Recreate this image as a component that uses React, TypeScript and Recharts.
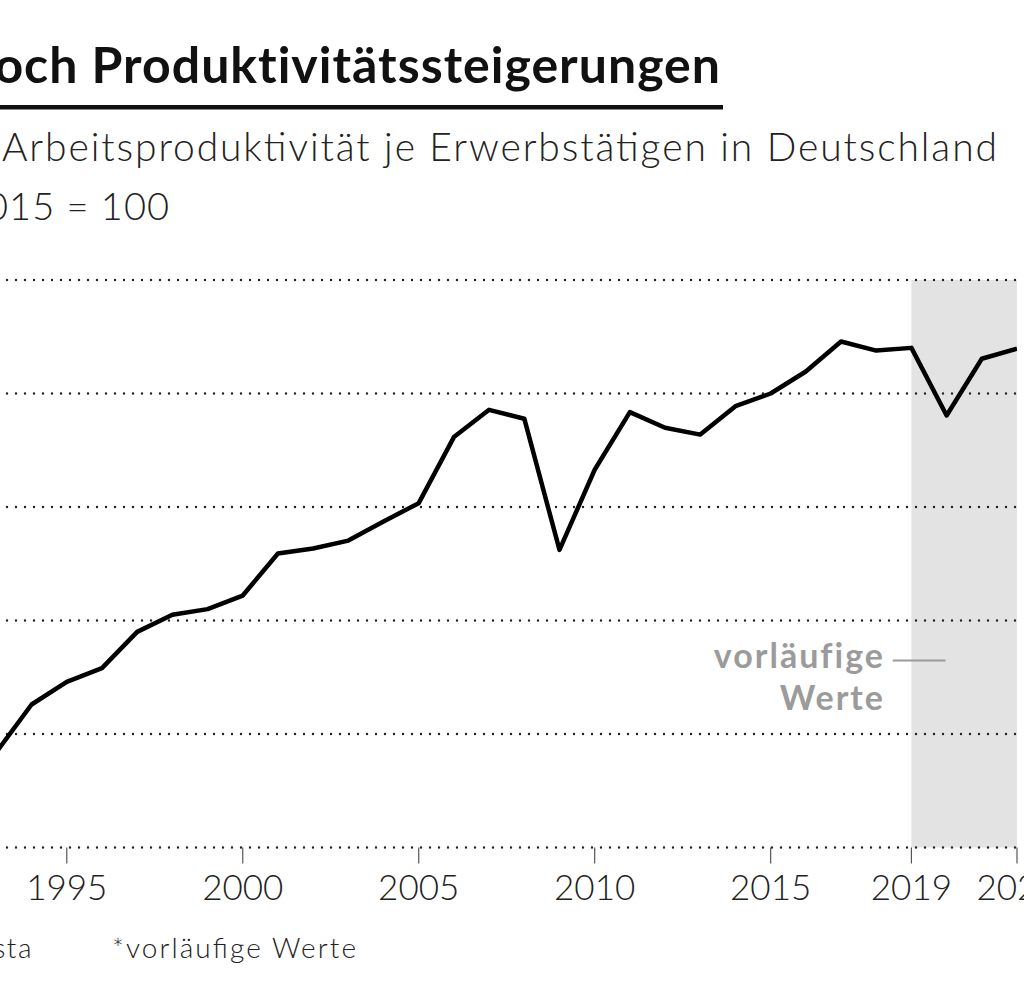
import React from "react";
import {
  LineChart,
  Line,
  XAxis,
  YAxis,
  ReferenceLine,
  ReferenceArea,
} from "recharts";

const years = [
  1991, 1992, 1993, 1994, 1995, 1996, 1997, 1998, 1999, 2000, 2001, 2002,
  2003, 2004, 2005, 2006, 2007, 2008, 2009, 2010, 2011, 2012, 2013, 2014,
  2015, 2016, 2017, 2018, 2019, 2020, 2021, 2022,
];
const productivity = [
  80.8, 82.9, 84.2, 86.3, 87.3, 87.9, 89.5, 90.25, 90.5, 91.1, 92.95, 93.17,
  93.52, 94.36, 95.17, 98.08, 99.28, 98.89, 93.11, 96.64, 99.18, 98.49, 98.19,
  99.44, 100, 100.97, 102.29, 101.89, 102.01, 99.03, 101.53, 101.97,
];
const xTicks = [1995, 2000, 2005, 2010, 2015, 2019, 2022];
const gridValues = [80, 85, 90, 95, 100, 105];
const provisionalStart = 2019;
const provisionalEnd = 2022;

const title = "Kaum noch Produktivitätssteigerungen";
const subtitle = "Arbeitsproduktivität je Erwerbstätigen in Deutschland";
const unitNote = "2015 = 100";
const source = "Quelle: Statista";
const footnote = "*vorläufige Werte";
const annotation = ["vorläufige", "Werte"];

const data = years.map((y, i) => ({ year: y, v: productivity[i] }));

const FONT = "Lato, 'Open Sans', sans-serif";

export default function App() {
  return (
    <div
      style={{
        position: "absolute",
        left: 0,
        top: 0,
        width: 1024,
        height: 1001,
        overflow: "hidden",
        background: "#fff",
        fontFamily: FONT,
      }}
    >
      <div style={{ position: "absolute", left: -74.1, top: 269.5 }}>
        <LineChart
          width={1121}
          height={647.5}
          data={data}
          margin={{ top: 10, right: 30, bottom: 0, left: 0 }}
        >
          <ReferenceArea
            x1={provisionalStart}
            x2={provisionalEnd}
            y1={80}
            y2={105}
            fill="#e3e3e3"
            fillOpacity={1}
            stroke="none"
            ifOverflow="visible"
          />
          {gridValues.map((g) => (
            <ReferenceLine
              key={g}
              y={g}
              stroke="#222"
              strokeWidth={2.4}
              strokeDasharray="0 9"
              strokeLinecap="round"
              ifOverflow="visible"
            />
          ))}
          <XAxis
            dataKey="year"
            type="number"
            domain={[1991, 2022]}
            ticks={xTicks}
            interval={0}
            axisLine={false}
            tickSize={16}
            tickMargin={12}
            tickLine={{ stroke: "#555", strokeWidth: 1.2 }}
            tick={{ fontSize: 35, fill: "#222", fontFamily: FONT, fontWeight: 300 }}
            height={70}
            allowDataOverflow
          />
          <YAxis type="number" domain={[80, 105]} hide allowDataOverflow />
          <ReferenceLine
            segment={[
              { x: 2018.47, y: 88.24 },
              { x: 2019.97, y: 88.24 },
            ]}
            stroke="#9a9a9a"
            strokeWidth={2}
            ifOverflow="visible"
          />
          <Line
            type="linear"
            dataKey="v"
            stroke="#000"
            strokeWidth={4.5}
            dot={false}
            activeDot={false}
            strokeLinejoin="round"
            isAnimationActive={false}
          />
        </LineChart>
      </div>
      <svg
        width={1024}
        height={1001}
        style={{ position: "absolute", left: 0, top: 0, pointerEvents: "none" }}
      >
        <text
          x={721}
          y={83}
          textAnchor="end"
          fontFamily={FONT}
          fontWeight={700}
          fontSize={50}
          letterSpacing={1}
          fill="#111"
        >
          {title}
        </text>
        <rect x={-10} y={105} width={733} height={4.5} fill="#111" />
        <text
          x={2}
          y={161}
          fontFamily={FONT}
          fontWeight={300}
          fontSize={39}
          textLength={995}
          lengthAdjust="spacing"
          fill="#222"
        >
          {subtitle}
        </text>
        <text
          x={170}
          y={220}
          textAnchor="end"
          fontFamily={FONT}
          fontWeight={300}
          fontSize={38}
          letterSpacing={1}
          fill="#222"
        >
          {unitNote}
        </text>
        <text
          x={885}
          y={668}
          textAnchor="end"
          fontFamily={FONT}
          fontWeight={700}
          fontSize={34}
          letterSpacing={2}
          fill="#9b9b9b"
        >
          {annotation[0]}
        </text>
        <text
          x={885}
          y={710}
          textAnchor="end"
          fontFamily={FONT}
          fontWeight={700}
          fontSize={34}
          letterSpacing={2}
          fill="#9b9b9b"
        >
          {annotation[1]}
        </text>
        <text
          x={33}
          y={958}
          textAnchor="end"
          fontFamily={FONT}
          fontWeight={300}
          fontSize={28}
          letterSpacing={1.5}
          fill="#222"
        >
          {source}
        </text>
        <text
          x={112}
          y={958}
          fontFamily={FONT}
          fontWeight={300}
          fontSize={28}
          textLength={244}
          lengthAdjust="spacing"
          fill="#222"
        >
          {footnote}
        </text>
      </svg>
    </div>
  );
}
